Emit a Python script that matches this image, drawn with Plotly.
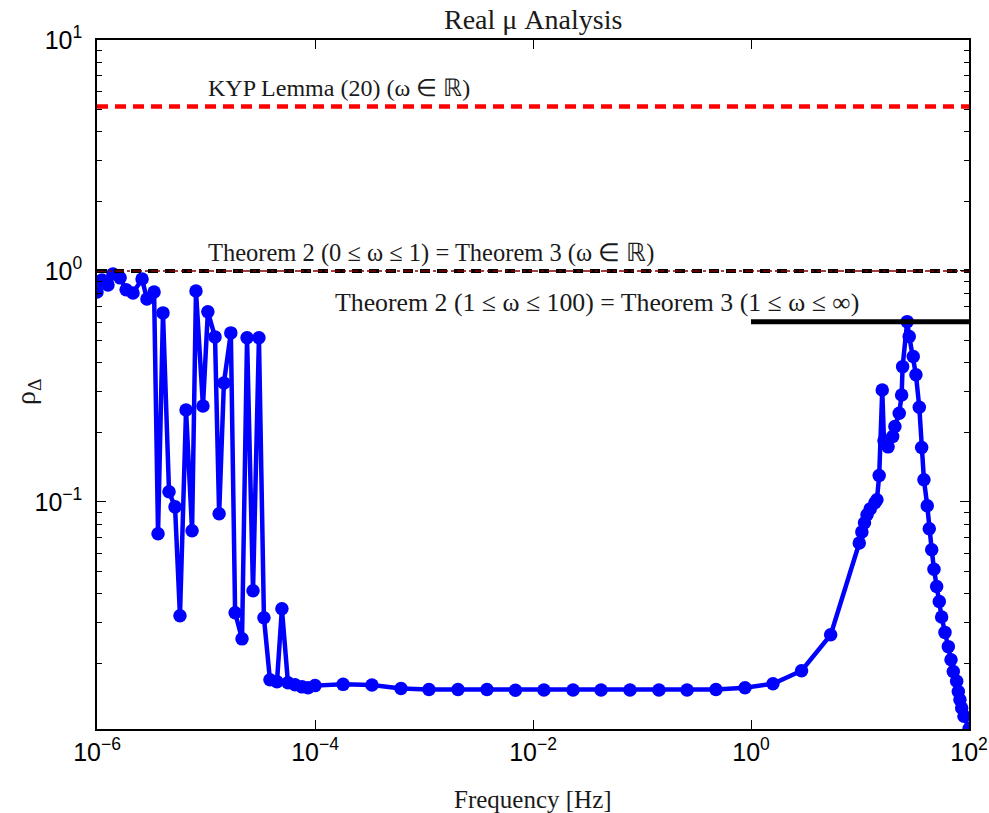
import math
import plotly.graph_objects as go

# ---- data ----
freq_hz = [
    1.0e-6, 1.11e-6, 1.26e-6, 1.40e-6, 1.63e-6, 1.85e-6, 2.14e-6, 2.59e-6, 2.87e-6, 3.34e-6,
    3.63e-6, 4.03e-6, 4.58e-6, 5.20e-6, 5.77e-6, 6.56e-6, 7.45e-6, 8.09e-6, 9.38e-6, 1.04e-5,
    1.21e-5, 1.32e-5, 1.46e-5, 1.69e-5, 1.85e-5, 2.14e-5, 2.38e-5, 2.70e-5, 3.06e-5, 3.40e-5,
    3.86e-5, 4.48e-5, 4.97e-5, 5.65e-5, 6.56e-5, 7.60e-5, 8.63e-5, 1.0e-4,
    1.81e-4, 3.33e-4, 6.15e-4, 1.11e-3, 2.05e-3, 3.78e-3, 6.90e-3, 1.26e-2, 2.33e-2, 4.21e-2,
    7.76e-2, 0.143, 0.259, 0.477, 0.881, 1.59, 2.91, 5.38,
    9.85, 10.4, 11.0, 11.6, 12.4, 13.7, 14.3, 15.0, 16.0, 16.6,
    18.1, 19.95, 20.9, 22.9, 24.1, 24.6, 27.1, 28.3, 30.8, 32.6,
    35.0, 36.8, 38.6, 41.4, 43.2, 45.5, 47.7, 50.5, 53.4, 56.1,
    60.2, 64.6, 68.4, 71.8, 77.1, 79.8, 82.6, 85.7, 90.0, 100.0,
]
rho_delta = [
    0.811, 0.914, 0.870, 0.970, 0.933, 0.828, 0.803, 0.923, 0.756, 0.811,
    0.0727, 0.658, 0.1105, 0.0951, 0.0321, 0.250, 0.0749, 0.819, 0.260, 0.665,
    0.518, 0.0887, 0.327, 0.539, 0.0331, 0.0255, 0.513, 0.0412, 0.513, 0.0315,
    0.01696, 0.01663, 0.0344, 0.01646, 0.01614, 0.0158, 0.01566, 0.0160,
    0.0162, 0.0161, 0.01555, 0.01539, 0.0154, 0.0154, 0.01529, 0.0153, 0.0153, 0.0153,
    0.0153, 0.0153, 0.0153, 0.0154, 0.01566, 0.0163, 0.01855, 0.02655,
    0.0663, 0.0741, 0.0811, 0.0879, 0.0932, 0.0990, 0.102, 0.130, 0.305, 0.184,
    0.173, 0.192, 0.212, 0.242, 0.290, 0.385, 0.603, 0.520, 0.426, 0.355,
    0.257, 0.172, 0.1245, 0.0961, 0.0764, 0.0620, 0.0511, 0.0430, 0.0370, 0.0317,
    0.0272, 0.0236, 0.0207, 0.0184, 0.0167, 0.0151, 0.0139, 0.0128, 0.0118, 0.0104,
]

kyp_x = [1e-6, 1e2]
kyp_y = [5.15, 5.15]
thm_low_x = [1e-6, 1e2]
thm_low_y = [1.0, 1.0]
thm_high_x = [1.0, 1e2]
thm_high_y = [0.603, 0.603]

x_tick_vals = [1e-6, 1e-4, 1e-2, 1e0, 1e2]
x_tick_text = ["10<sup>−6</sup>", "10<sup>−4</sup>", "10<sup>−2</sup>", "10<sup>0</sup>", "10<sup>2</sup>"]
y_tick_vals = [1e-1, 1e0, 1e1]
y_tick_text = ["10<sup>−1</sup>", "10<sup>0</sup>", "10<sup>1</sup>"]
y_minor_vals = [m * 10.0 ** k for k in (-2, -1, 0) for m in range(2, 10)]

labels = [
    ("KYP Lemma (20) (ω ∈ ℝ)", 1e-5, 6.2, 24),
    ("Theorem 2 (0 ≤ ω ≤ 1) = Theorem 3 (ω ∈ ℝ)", 1e-5, 1.2, 24.5),
    ("Theorem 2 (1 ≤ ω ≤ 100) = Theorem 3 (1 ≤ ω ≤ ∞)", 1.46e-4, 0.73, 25.8),
]

SERIF = "Liberation Serif, Times New Roman, serif"
SANS = "Liberation Sans, Arial, Helvetica, sans-serif"

fig = go.Figure()
fig.add_trace(go.Scatter(
    x=freq_hz, y=rho_delta, mode="lines+markers",
    line=dict(color="#0000FF", width=4.5),
    marker=dict(color="#0000FF", size=13.5, symbol="circle"),
    showlegend=False,
))
fig.add_trace(go.Scatter(
    x=kyp_x, y=kyp_y, mode="lines",
    line=dict(color="#FF0000", width=4.5, dash="11px,7px"),
    showlegend=False,
))
fig.add_trace(go.Scatter(
    x=thm_low_x, y=thm_low_y, mode="lines",
    line=dict(color="#000000", width=4, dash="10px,7px"),
    showlegend=False,
))
fig.add_trace(go.Scatter(
    x=thm_low_x, y=thm_low_y, mode="lines",
    line=dict(color="#800000", width=1.5, dash="dashdot"),
    showlegend=False,
))
fig.add_trace(go.Scatter(
    x=thm_high_x, y=thm_high_y, mode="lines",
    line=dict(color="#000000", width=5),
    showlegend=False,
))

for txt, xv, yv, fs in labels:
    fig.add_annotation(
        text=txt, x=math.log10(xv), y=math.log10(yv), xref="x", yref="y",
        xanchor="left", yanchor="middle", showarrow=False,
        font=dict(family=SERIF, size=fs, color="#1a1a1a"),
    )

# axis titles and chart title (plot area: x 97..969, y 40..729)
fig.add_annotation(text="Frequency [Hz]", x=0.5, y=(729 - 799) / 689, xref="paper", yref="paper",
                   xanchor="center", yanchor="middle", showarrow=False,
                   font=dict(family=SERIF, size=25, color="#1a1a1a"))
fig.add_annotation(text="ρ<sub>Δ</sub>", x=-70 / 872, y=(729 - 392) / 689, xref="paper", yref="paper",
                   xanchor="center", yanchor="middle", showarrow=False, textangle=-90,
                   font=dict(family=SERIF, size=28, color="#1a1a1a"))
fig.add_annotation(text="Real μ Analysis", x=0.5, y=(729 - 19) / 689, xref="paper", yref="paper",
                   xanchor="center", yanchor="middle", showarrow=False,
                   font=dict(family=SERIF, size=28, color="#1a1a1a"))

fig.update_layout(
    width=989, height=813, autosize=False,
    margin=dict(l=97, r=20, t=40, b=84, pad=0),
    plot_bgcolor="white", paper_bgcolor="white",
    xaxis=dict(
        type="log", range=[-6, 2], showgrid=False, zeroline=False, automargin=False,
        showline=True, linecolor="black", linewidth=1.5, mirror="ticks",
        ticks="inside", ticklen=9, tickwidth=1.2, tickcolor="black",
        tickmode="array", tickvals=x_tick_vals, ticktext=x_tick_text,
        tickfont=dict(family=SANS, size=25, color="black"),
    ),
    yaxis=dict(
        type="log", range=[math.log10(0.01038), 1], showgrid=False, zeroline=False, automargin=False,
        showline=True, linecolor="black", linewidth=1.5, mirror="ticks",
        ticks="inside", ticklen=9, tickwidth=1.2, tickcolor="black",
        tickmode="array", tickvals=y_tick_vals, ticktext=y_tick_text,
        tickfont=dict(family=SANS, size=25, color="black"),
        ticklabelstandoff=8,
        minor=dict(ticks="inside", ticklen=5, tickwidth=1, tickcolor="black",
                   tickmode="array", tickvals=y_minor_vals, showgrid=False),
    ),
)

fig.write_html(
    "out.html",
    config={"displayModeBar": False},
    post_script="document.body.style.margin='0';document.body.style.overflow='hidden';",
)
